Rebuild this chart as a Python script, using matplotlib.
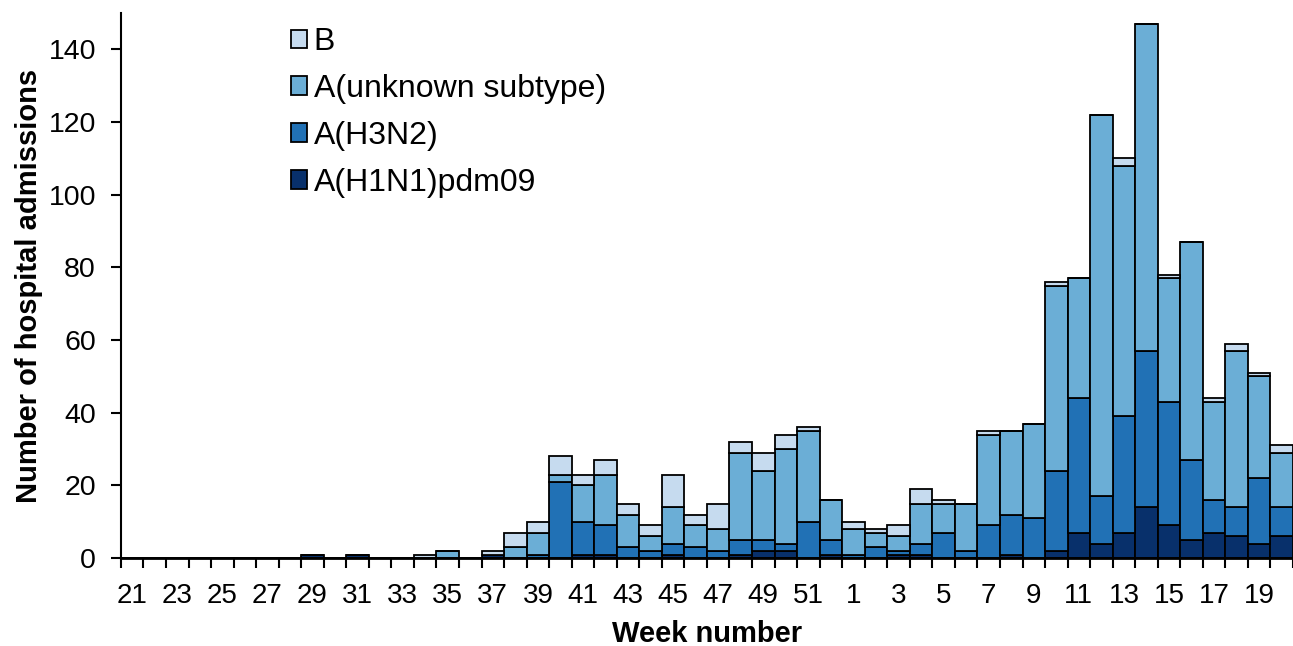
import numpy as np
import matplotlib
matplotlib.use("Agg")
import matplotlib.pyplot as plt

plt.rcParams["font.family"] = ["Liberation Sans", "DejaVu Sans"]

# weeks 21..52 then 1..20
weeks = list(range(21, 53)) + list(range(1, 21))

h1n1 = [0, 0, 0, 0, 0, 0, 0, 0, 1, 0, 1, 0, 0, 0, 0, 0,
        1, 0, 0, 0, 1, 1, 0, 0, 1, 0, 0, 1, 2, 2, 0, 1,
        0, 0, 1, 1, 0, 0, 0, 1, 0, 2, 7, 4, 7, 14, 9, 5, 7, 6, 4, 6]
h3n2 = [0, 0, 0, 0, 0, 0, 0, 0, 0, 0, 0, 0, 0, 0, 0, 0,
        0, 0, 1, 21, 9, 8, 3, 2, 3, 3, 2, 4, 3, 2, 10, 4,
        1, 3, 1, 3, 7, 2, 9, 11, 11, 22, 37, 13, 32, 43, 34, 22, 9, 8, 18, 8]
a_unknown = [0, 0, 0, 0, 0, 0, 0, 0, 0, 0, 0, 0, 0, 0, 2, 0,
             0, 3, 6, 2, 10, 14, 9, 4, 10, 6, 6, 24, 19, 26, 25, 11,
             7, 4, 4, 11, 8, 13, 25, 23, 26, 51, 33, 105, 69, 90, 34, 60, 27, 43, 28, 15]
b = [0, 0, 0, 0, 0, 0, 0, 0, 0, 0, 0, 0, 0, 1, 0, 0,
     1, 4, 3, 5, 3, 4, 3, 3, 9, 3, 7, 3, 5, 4, 1, 0,
     2, 1, 3, 4, 1, 0, 1, 0, 0, 1, 0, 0, 2, 0, 1, 0, 1, 2, 1, 2]

series = [("A(H1N1)pdm09", h1n1, "#08306b"),
          ("A(H3N2)", h3n2, "#2171b5"),
          ("A(unknown subtype)", a_unknown, "#6baed6"),
          ("B", b, "#c6dbef")]

fig = plt.figure(figsize=(12.93, 6.46), dpi=100)
ax = fig.add_axes([0.0935, 0.136, 0.9065, 0.844])

x = np.arange(len(weeks))
bottom = np.zeros(len(weeks))
for name, vals, col in series:
    ax.bar(x, vals, width=1.0, bottom=bottom, color=col, edgecolor="black",
           linewidth=1.3, label=name, zorder=2)
    bottom += np.array(vals)

ax.set_xlim(-0.5, 51.18)
ax.set_ylim(0, 150)
ax.set_yticks(range(0, 141, 20))

ax.set_xticks(x[::2])
ax.set_xticklabels([str(w) for w in weeks[::2]])
ax.set_xticks(np.arange(-0.5, 52, 1), minor=True)
ax.tick_params(axis="x", which="major", length=0, pad=18, labelsize=20)
ax.tick_params(axis="x", which="minor", length=7, width=1.5, direction="out")
ax.tick_params(axis="y", length=7, width=1.5, labelsize=20.5, pad=11)

for s in ["top", "right"]:
    ax.spines[s].set_visible(False)
ax.spines["left"].set_linewidth(1.5)
ax.spines["bottom"].set_linewidth(2)
ax.spines["bottom"].set_zorder(3)

ax.set_ylabel("Number of hospital admissions", fontsize=21, fontweight="bold",
              labelpad=4)
ax.set_xlabel("Week number", fontsize=21, fontweight="bold", labelpad=8)

handles, labels = ax.get_legend_handles_labels()
leg = ax.legend(handles[::-1], labels[::-1], loc="upper left",
                bbox_to_anchor=(0.2153, 0.978), bbox_transform=fig.transFigure,
                frameon=False, fontsize=23, handlelength=0.5, handleheight=0.5,
                handletextpad=0.2, labelspacing=0.53, borderaxespad=0)

fig.savefig("out.png", dpi=100)
